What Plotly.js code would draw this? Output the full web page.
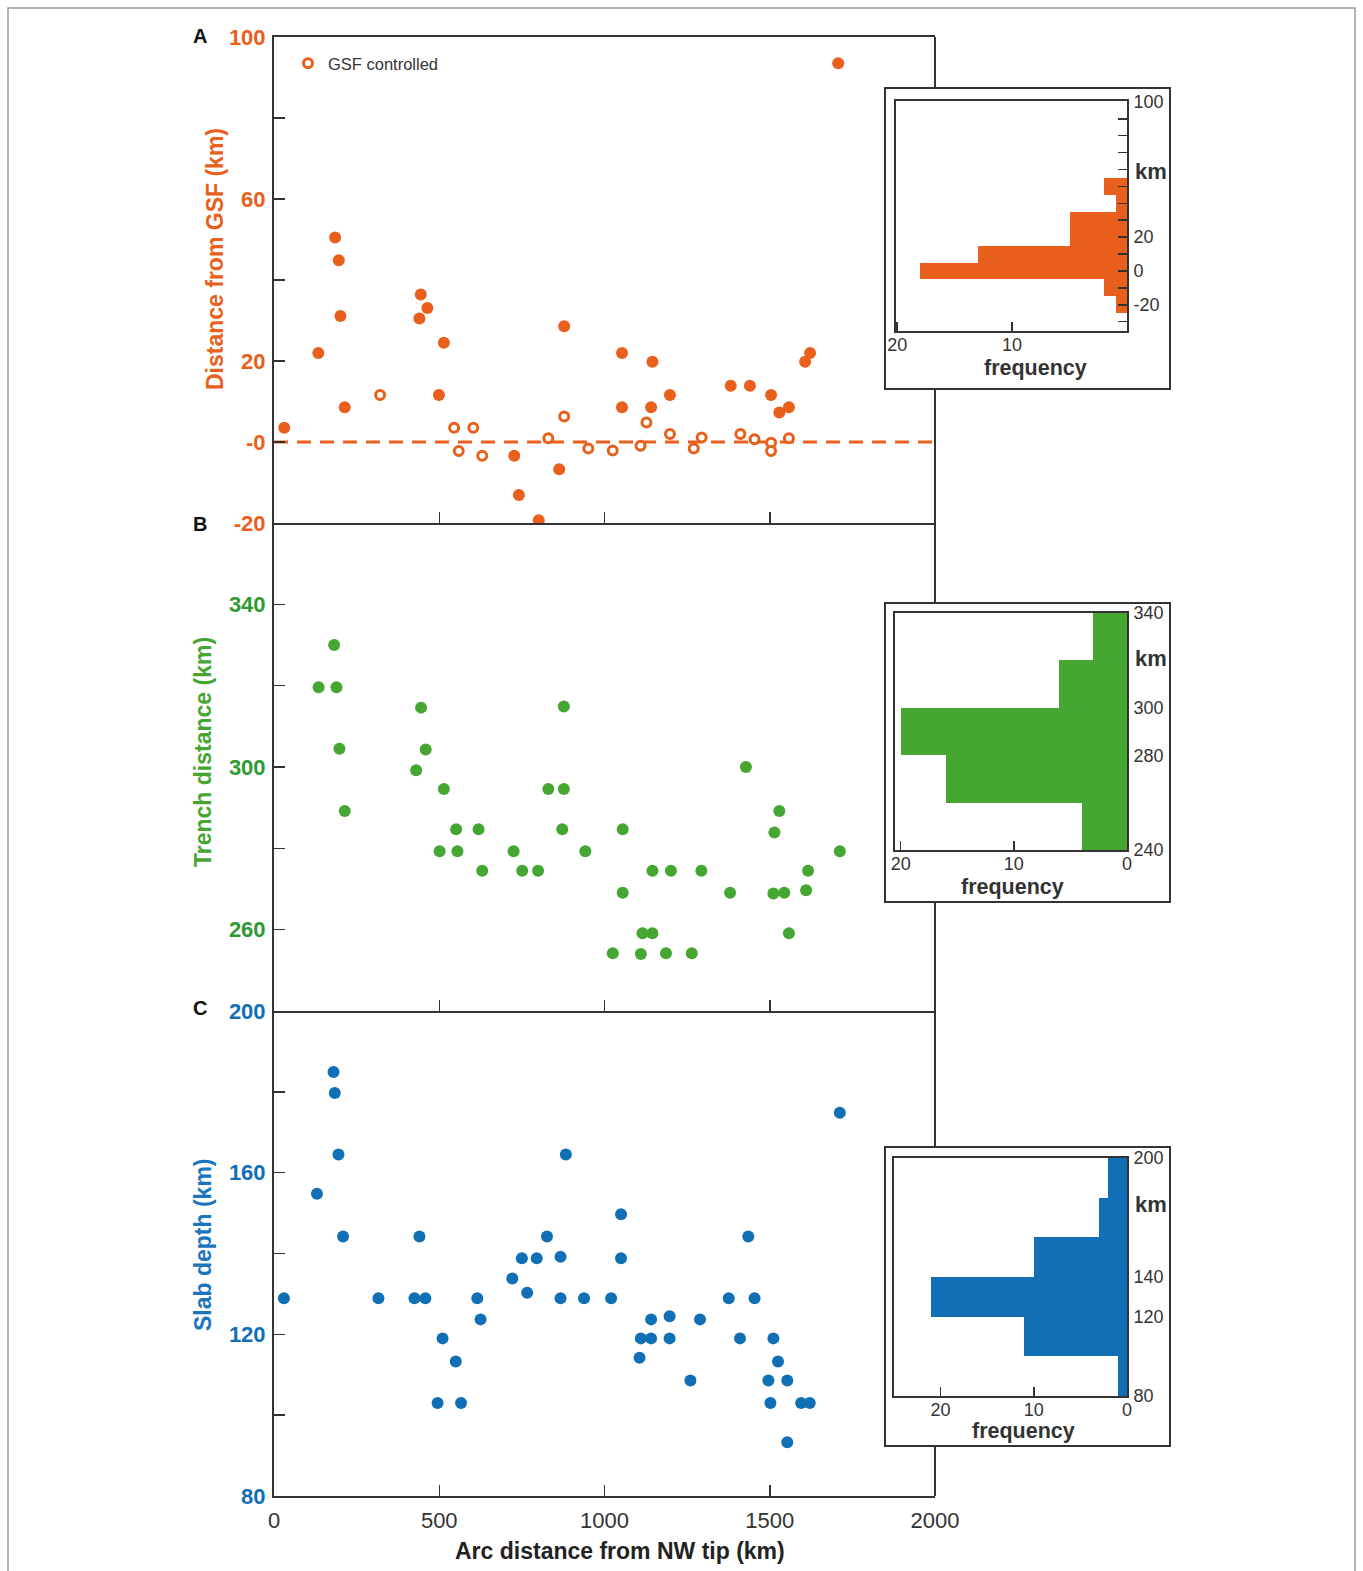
<!DOCTYPE html>
<html>
<head>
<meta charset="utf-8">
<script src="https://cdn.plot.ly/plotly-3.0.1.min.js"></script>
<style>html,body{margin:0;padding:0;background:#fff;}#chart{width:1363px;height:1571px;}</style>
</head>
<body>
<div id="chart"></div>
<script>
// ---------- DATA ----------
// Panel A: distance from GSF (km), filled = not GSF controlled, open = GSF controlled
const gsfFilledX = [31,134,185,196,201,214,440,444,464,499,514,727,741,801,863,878,1053,1053,1141,1145,1198,1382,1440,1504,1529,1558,1607,1622,1707];
const gsfFilledY = [3.5,22.0,50.5,44.9,31.1,8.6,30.5,36.4,33.1,11.6,24.5,-3.4,-13.1,-19.3,-6.7,28.6,22.0,8.6,8.6,19.8,11.6,13.9,13.9,11.6,7.3,8.6,19.8,22.0,93.5];
const gsfOpenX = [321,545,559,603,630,830,878,951,1025,1109,1127,1198,1270,1294,1411,1454,1504,1504,1558];
const gsfOpenY = [11.6,3.5,-2.2,3.5,-3.4,0.9,6.3,-1.6,-2.1,-0.9,4.8,2.0,-1.6,1.1,2.0,0.7,-0.2,-2.2,0.9];
const zeroLineX = [0, 2000];
const zeroLineY = [0, 0];

// Panel B: trench distance (km)
const trenchX = [182,135,189,445,198,459,430,214,514,551,619,501,555,630,725,751,799,830,877,877,872,942,
                 1055,1055,1025,1115,1145,1110,1145,1201,1186,1264,1293,1380,1428,1529,1514,1511,1544,1558,1610,1616,1712];
const trenchY = [330.0,319.6,319.6,314.6,304.5,304.3,299.2,289.2,294.6,284.7,284.7,279.3,279.3,274.5,279.3,274.5,274.5,294.6,294.6,314.9,284.7,279.3,
                 284.7,269.1,254.2,259.1,259.1,254.0,274.5,274.5,254.2,254.2,274.5,269.1,300.0,289.2,283.9,268.9,269.1,259.1,269.7,274.5,279.3];

// Panel C: slab depth (km)
const slabX = [180,184,195,130,209,30,316,440,425,458,510,550,495,566,615,625,721,750,795,766,826,867,867,883,938,
               1020,1050,1050,1141,1197,1110,1141,1197,1106,1289,1260,1376,1435,1454,1410,1511,1525,1496,1553,1502,1595,1621,1553,1712];
const slabY = [184.9,179.7,164.5,154.8,144.2,128.9,128.9,144.2,128.9,128.9,119.0,113.3,103.0,103.0,128.9,123.7,133.8,138.8,138.8,130.3,144.2,139.2,128.9,164.5,128.9,
               128.9,149.7,138.8,123.7,124.5,119.0,119.0,119.0,114.2,123.7,108.6,128.9,144.2,128.9,119.0,119.0,113.3,108.6,108.6,103.0,103.0,103.0,93.3,174.8];

// Histograms (bin centres, frequencies)
const gsfBins = [-20,-10,0,10,20,30,40,50];
const gsfFreq = [1,2,18,13,5,5,1,2];
const trenchBins = [250,270,290,310,330];
const trenchFreq = [4,16,20,6,3];
const slabBins = [90,110,130,150,170,190];
const slabFreq = [1,11,21,10,3,2];
const gsfBinWidth = 10, trenchBinWidth = 20, slabBinWidth = 20;

// Tick labels
const xTickVals = [0,500,1000,1500,2000];
const xTickText = ['0','500','1000','1500','2000'];
const gsfTickVals = [-20,0,20,40,60,80,100];
const gsfTickText = ['-20','-0','20','','60','','100'];
const trenchTickVals = [260,280,300,320,340];
const trenchTickText = ['260','','300','','340'];
const slabTickVals = [80,100,120,140,160,180,200];
const slabTickText = ['80','','120','','160','','200'];
const gsfHistTickVals = [-30,-20,-10,0,10,20,30,40,50,60,70,80,90,100];
const gsfHistTickText = ['','-20','','0','','20','','','','','','','','100'];
const trenchHistTickVals = [240,280,300,340];
const slabHistTickVals = [80,120,140,200];

// Text
const titleGsf = 'Distance from GSF (km)';
const titleTrench = 'Trench distance (km)';
const titleSlab = 'Slab depth (km)';
const titleX = 'Arc distance from NW tip (km)';
const titleFreq = 'frequency';
const legendName = 'GSF controlled';

// ---------- STYLE ----------
const W = 1363, H = 1571;
const X = p => p / W;
const Y = p => 1 - p / H;
const ORANGE = '#E8601C', GREEN = '#45A632', GREEN_T = '#2F9A33', BLUE = '#1170B5';
const DARK = '#333333';
const FONT = 'Arial, "Liberation Sans", Helvetica, sans-serif';

const mainX = [X(274), X(935)];
function mainXAxis(anchor, labels, mirror) {
  return {
    domain: mainX, anchor: anchor, range: [0, 2000],
    tickvals: labels ? xTickVals : [500,1000,1500],
    ticktext: labels ? xTickText : ['','',''],
    showticklabels: !!labels,
    ticks: 'inside', ticklen: 11, tickwidth: 1.5, tickcolor: DARK,
    showline: true, mirror: mirror, linewidth: 2, linecolor: DARK,
    showgrid: false, zeroline: false,
    ticklabelstandoff: 4,
    tickfont: {family: FONT, size: 22, color: DARK}
  };
}
function mainYAxis(anchor, dom, range, tv, tt, col) {
  return {
    domain: dom, anchor: anchor, range: range,
    tickvals: tv, ticktext: tt,
    ticks: 'inside', ticklen: 11, tickwidth: 1.5, tickcolor: DARK,
    showline: true, mirror: false, linewidth: 2, linecolor: DARK,
    showgrid: false, zeroline: false,
    tickfont: {family: FONT, size: 22, color: col, weight: 'bold'},
    ticklabelstandoff: 2
  };
}
function insetXAxis(anchor, dom, range, tv, tt) {
  return {
    domain: dom, anchor: anchor, range: range,
    tickvals: tv, ticktext: tt,
    ticks: 'inside', ticklen: 9, tickwidth: 1.5, tickcolor: DARK,
    showline: true, mirror: true, linewidth: 2, linecolor: DARK,
    showgrid: false, zeroline: false,
    tickfont: {family: FONT, size: 18, color: DARK},
    ticklabelstandoff: -4
  };
}
function insetYAxis(anchor, dom, range, tv, tt, ticks) {
  return {
    domain: dom, anchor: anchor, range: range, side: 'right',
    tickvals: tv, ticktext: tt,
    ticks: ticks ? 'inside' : '', ticklen: 9, tickwidth: 1.5, tickcolor: DARK,
    showline: true, mirror: true, linewidth: 2, linecolor: DARK,
    showgrid: false, zeroline: false,
    tickfont: {family: FONT, size: 18, color: DARK},
    ticklabelstandoff: 1
  };
}

const traces = [
  {type: 'scatter', mode: 'lines', x: zeroLineX, y: zeroLineY, xaxis: 'x', yaxis: 'y',
   line: {color: ORANGE, width: 3, dash: '14px,9px'}, showlegend: false, hoverinfo: 'skip'},
  {type: 'scatter', mode: 'markers', x: gsfFilledX, y: gsfFilledY, xaxis: 'x', yaxis: 'y',
   marker: {color: ORANGE, size: 12, line: {width: 0}}, showlegend: false, name: 'Distance from GSF'},
  {type: 'scatter', mode: 'markers', x: gsfOpenX, y: gsfOpenY, xaxis: 'x', yaxis: 'y',
   marker: {color: 'white', size: 9, line: {color: ORANGE, width: 3}}, showlegend: true, name: legendName},
  {type: 'scatter', mode: 'markers', x: trenchX, y: trenchY, xaxis: 'x2', yaxis: 'y2',
   marker: {color: GREEN, size: 12, line: {width: 0}}, showlegend: false, name: 'Trench distance'},
  {type: 'scatter', mode: 'markers', x: slabX, y: slabY, xaxis: 'x3', yaxis: 'y3',
   marker: {color: BLUE, size: 12, line: {width: 0}}, showlegend: false, name: 'Slab depth'},
  {type: 'bar', orientation: 'h', x: gsfFreq, y: gsfBins, width: gsfBinWidth, xaxis: 'x4', yaxis: 'y4',
   marker: {color: ORANGE, line: {width: 0}}, showlegend: false},
  {type: 'bar', orientation: 'h', x: trenchFreq, y: trenchBins, width: trenchBinWidth, xaxis: 'x5', yaxis: 'y5',
   marker: {color: GREEN, line: {width: 0}}, showlegend: false},
  {type: 'bar', orientation: 'h', x: slabFreq, y: slabBins, width: slabBinWidth, xaxis: 'x6', yaxis: 'y6',
   marker: {color: BLUE, line: {width: 0}}, showlegend: false}
];

function vline(x, y0, y1) {
  return {type: 'line', xref: 'paper', yref: 'paper', x0: X(x), x1: X(x), y0: Y(y0), y1: Y(y1),
          line: {color: DARK, width: 2}, layer: 'above'};
}
function box(x0, y0, x1, y1) {
  return {type: 'rect', xref: 'paper', yref: 'paper', x0: X(x0), x1: X(x1), y0: Y(y0), y1: Y(y1),
          line: {color: DARK, width: 2}, fillcolor: 'rgba(0,0,0,0)', layer: 'above'};
}
function label(text, x, y, size, color, xanchor, angle) {
  return {text: text, x: X(x), y: Y(y), xref: 'paper', yref: 'paper', showarrow: false,
          xanchor: xanchor || 'center', yanchor: 'middle', textangle: angle || 0,
          font: {family: FONT, size: size, color: color, weight: 'bold'}};
}

const layout = {
  width: W, height: H,
  margin: {l: 0, r: 0, t: 0, b: 0},
  paper_bgcolor: 'white', plot_bgcolor: 'rgba(0,0,0,0)',
  font: {family: FONT, color: DARK},
  bargap: 0,
  xaxis: mainXAxis('y', false, true),
  xaxis2: mainXAxis('y2', false, false),
  xaxis3: mainXAxis('y3', true, false),
  yaxis: mainYAxis('x', [Y(523), Y(37)], [-20, 100], gsfTickVals, gsfTickText, ORANGE),
  yaxis2: mainYAxis('x2', [Y(1011), Y(523)], [240, 360], trenchTickVals, trenchTickText, GREEN_T),
  yaxis3: mainYAxis('x3', [Y(1496), Y(1011)], [80, 200], slabTickVals, slabTickText, BLUE),
  xaxis4: insetXAxis('y4', [X(896), X(1127)], [20.1, 0], [20, 10], ['20', '10']),
  yaxis4: insetYAxis('x4', [Y(331), Y(101)], [-35.5, 100.5], gsfHistTickVals, gsfHistTickText, true),
  xaxis5: insetXAxis('y5', [X(895), X(1127)], [20.5, 0], [20, 10, 0], ['20', '10', '0']),
  yaxis5: insetYAxis('x5', [Y(850), Y(613)], [240, 340], trenchHistTickVals, trenchHistTickVals.map(String), false),
  xaxis6: insetXAxis('y6', [X(894), X(1127)], [25, 0], [20, 10, 0], ['20', '10', '0']),
  yaxis6: insetYAxis('x6', [Y(1396), Y(1158)], [80, 200], slabHistTickVals, slabHistTickVals.map(String), false),
  legend: {x: X(288), y: Y(46), xanchor: 'left', yanchor: 'top', bgcolor: 'rgba(0,0,0,0)',
           font: {family: FONT, size: 16.5, color: DARK}, itemclick: false, tracegroupgap: 0},
  shapes: [
    {type: 'rect', xref: 'paper', yref: 'paper', x0: X(8), x1: X(1355), y0: Y(1600), y1: Y(8),
     line: {color: '#9a9a9a', width: 1.5}, fillcolor: 'rgba(0,0,0,0)', layer: 'below'},
    vline(935, 37, 88), vline(935, 389, 603), vline(935, 902, 1147), vline(935, 1446, 1496),
    box(885, 88, 1170, 389), box(885, 603, 1170, 902), box(885, 1147, 1170, 1446)
  ],
  annotations: [
    label('A', 200, 36, 20, '#111'),
    label('B', 200, 524, 20, '#111'),
    label('C', 200, 1008, 20, '#111'),
    label(titleGsf, 215, 259, 23, ORANGE, 'center', -90),
    label(titleTrench, 203, 752, 23, GREEN, 'center', -90),
    label(titleSlab, 203, 1245, 23, '#1A75BC', 'center', -90),
    label(titleX, 620, 1551, 23, '#222'),
    label(titleFreq, 1035, 368, 21.5, DARK),
    label(titleFreq, 1012, 887, 21.5, DARK),
    label(titleFreq, 1023, 1431, 21.5, DARK),
    label('km', 1133, 172, 22, DARK, 'left'),
    label('km', 1133, 658, 22, DARK, 'left'),
    label('km', 1133, 1204, 22, DARK, 'left')
  ]
};

Plotly.newPlot('chart', traces, layout, {displayModeBar: false, staticPlot: true});
</script>
</body>
</html>
